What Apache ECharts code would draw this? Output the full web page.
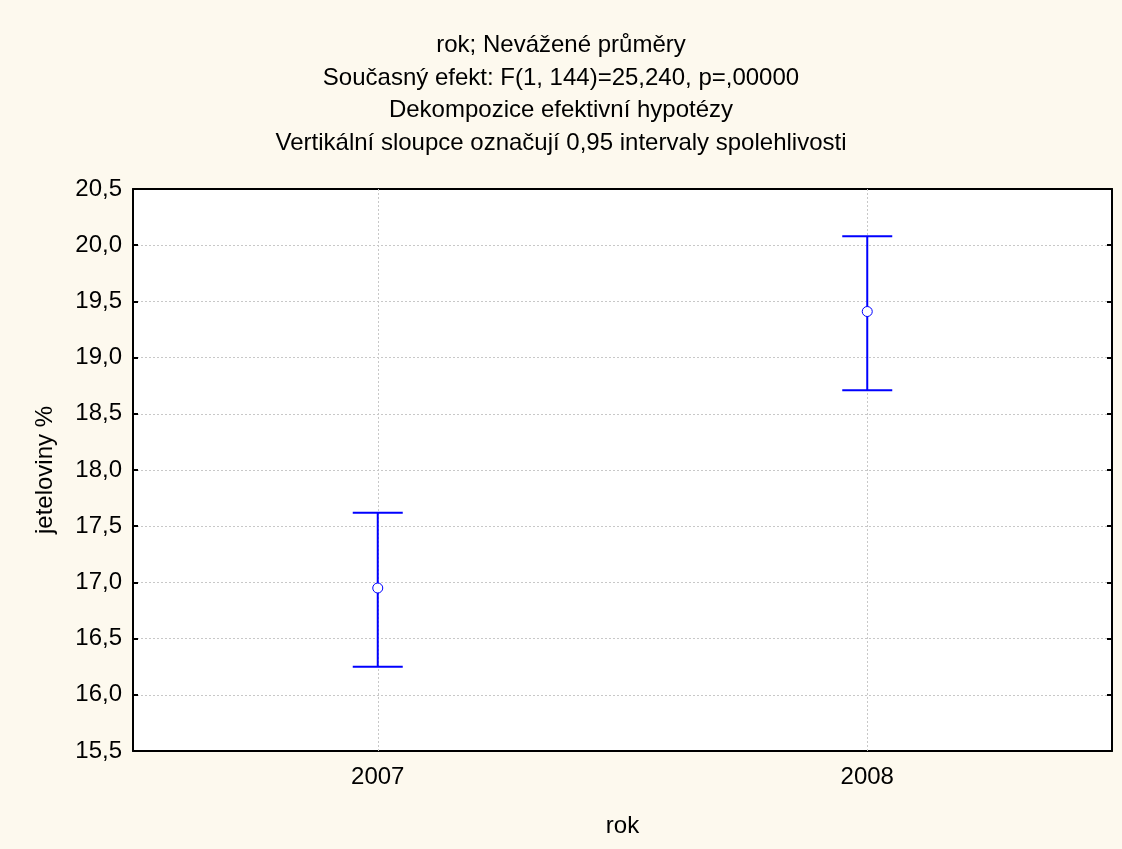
<!DOCTYPE html>
<html><head><meta charset="utf-8">
<script src="https://cdn.jsdelivr.net/npm/echarts@6/dist/echarts.min.js"></script>
<style>html,body{margin:0;padding:0;background:#fdf9ee;}#c{width:1122px;height:849px;}</style>
</head><body><div id="c"></div>
<script>
const categories = ['2007', '2008'];
const means = [16.95, 19.41];
const lower = [16.25, 18.71];
const upper = [17.62, 20.08];
const yTicks = [15.5, 20.5, 0.5]; // min, max, step
const titleLines = ['rok; Nevážené průměry', 'Současný efekt: F(1, 144)=25,240, p=,00000', 'Dekompozice efektivní hypotézy', 'Vertikální sloupce označují 0,95 intervaly spolehlivosti'];

const font = 'Liberation Sans, Arial, sans-serif';
const fs = 24;
const chart = echarts.init(document.getElementById('c'));
const errData = categories.map((c, i) => [i, lower[i], upper[i]]);
const gridLine = {show: true, lineStyle: {color: '#c8c8c8', type: [2, 2], width: 1}};
chart.setOption({
  backgroundColor: '#fdf9ee',
  animation: false,
  title: {
    text: titleLines.join('\n'),
    left: 'center', top: 24,
    textStyle: {fontFamily: font, fontSize: fs, fontWeight: 'normal', color: '#000', lineHeight: 32.7}
  },
  grid: {left: 133, right: 10, top: 189, bottom: 98, backgroundColor: '#ffffff', show: true, borderWidth: 0},
  xAxis: [{
    type: 'category', data: categories, position: 'bottom',
    name: 'rok', nameLocation: 'middle', nameGap: 63,
    nameTextStyle: {fontFamily: font, fontSize: fs, color: '#000'},
    axisLine: {lineStyle: {color: '#000', width: 2}},
    axisTick: {inside: true, alignWithLabel: true, length: 5, lineStyle: {color: '#000', width: 2}},
    axisLabel: {fontFamily: font, fontSize: fs, color: '#000', margin: 14},
    splitLine: {show: false}
  }, {
    type: 'category', data: categories, position: 'top',
    axisLine: {lineStyle: {color: '#000', width: 2}},
    axisTick: {inside: true, alignWithLabel: true, length: 5, lineStyle: {color: '#000', width: 2}},
    axisLabel: {show: false}, splitLine: {show: false}
  }],
  yAxis: [{
    type: 'value', min: yTicks[0], max: yTicks[1], interval: yTicks[2],
    name: 'jeteloviny %', nameLocation: 'middle', nameGap: 76, nameRotate: 90,
    nameTextStyle: {fontFamily: font, fontSize: fs, color: '#000'},
    axisLine: {show: true, lineStyle: {color: '#000', width: 2}},
    axisTick: {show: true, inside: true, length: 5, lineStyle: {color: '#000', width: 2}},
    axisLabel: {fontFamily: font, fontSize: fs, color: '#000', margin: 11,
      formatter: v => v.toFixed(1).replace('.', ',')},
    splitLine: gridLine
  }, {
    type: 'value', min: yTicks[0], max: yTicks[1], interval: yTicks[2], position: 'right',
    axisLine: {show: true, lineStyle: {color: '#000', width: 2}},
    axisTick: {show: true, inside: true, length: 5, lineStyle: {color: '#000', width: 2}},
    axisLabel: {show: false}, splitLine: {show: false}
  }],
  series: [{
    type: 'line', data: [], z: 1, silent: true,
    markLine: {
      z: 1, silent: true, symbol: ['none', 'none'], label: {show: false},
      lineStyle: {color: '#c8c8c8', type: [2, 2], width: 1},
      data: categories.map(c => ({xAxis: c}))
    }
  }, {
    type: 'custom',
    data: errData,
    z: 3,
    renderItem: function (params, api) {
      const x = api.value(0);
      const lo = api.coord([x, api.value(1)]);
      const hi = api.coord([x, api.value(2)]);
      const hw = 25;
      const st = {stroke: '#0000ff', lineWidth: 2};
      return {type: 'group', children: [
        {type: 'line', shape: {x1: lo[0], y1: lo[1], x2: hi[0], y2: hi[1]}, style: st},
        {type: 'line', shape: {x1: lo[0] - hw, y1: lo[1], x2: lo[0] + hw, y2: lo[1]}, style: st},
        {type: 'line', shape: {x1: hi[0] - hw, y1: hi[1], x2: hi[0] + hw, y2: hi[1]}, style: st}
      ]};
    }
  }, {
    type: 'scatter',
    data: means.map((m, i) => [i, m]),
    symbol: 'circle', symbolSize: 10, z: 4,
    itemStyle: {color: '#ffffff', borderColor: '#0000ff', borderWidth: 1, opacity: 1}
  }]
});
</script></body></html>
